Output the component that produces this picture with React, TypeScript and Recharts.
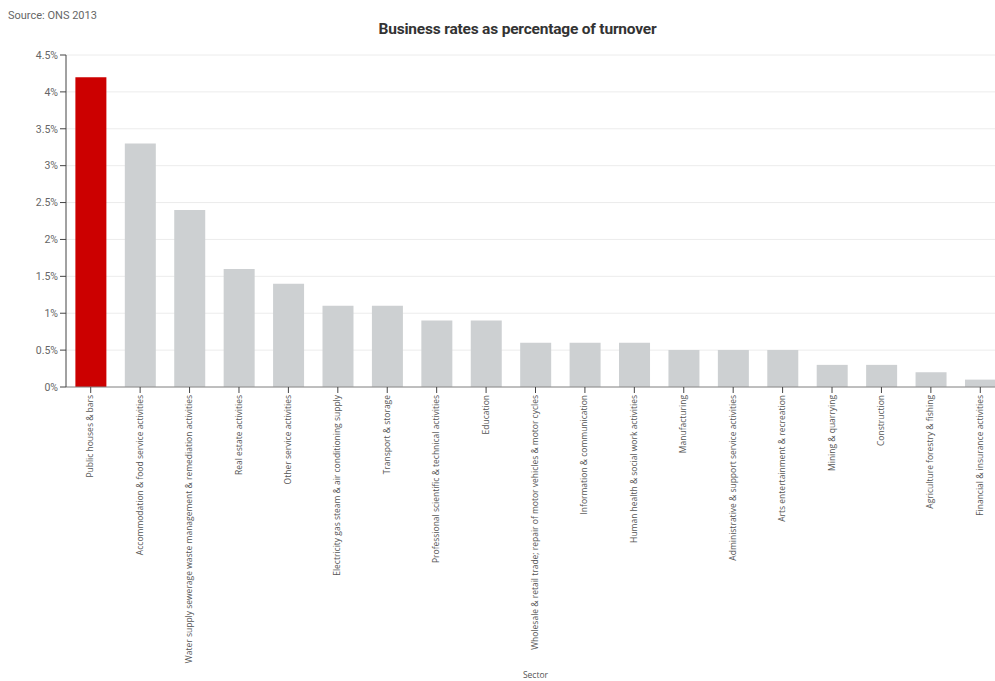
import { BarChart, Bar, Cell, XAxis, YAxis, CartesianGrid, Label } from 'recharts';

const sectors = [
  'Public houses & bars',
  'Accommodation & food service activities',
  'Water supply sewerage waste management & remediation activities',
  'Real estate activities',
  'Other service activities',
  'Electricity gas steam & air conditioning supply',
  'Transport & storage',
  'Professional scientific & technical activities',
  'Education',
  'Wholesale & retail trade; repair of motor vehicles & motor cycles',
  'Information & communication',
  'Human health & social work activities',
  'Manufacturing',
  'Administrative & support service activities',
  'Arts entertainment & recreation',
  'Mining & quarrying',
  'Construction',
  'Agriculture forestry & fishing',
  'Financial & insurance activities',
];

const ratesPct = [4.2, 3.3, 2.4, 1.6, 1.4, 1.1, 1.1, 0.9, 0.9, 0.6, 0.6, 0.6, 0.5, 0.5, 0.5, 0.3, 0.3, 0.2, 0.1];

const yTicks = [0, 0.5, 1, 1.5, 2, 2.5, 3, 3.5, 4, 4.5];

const data = sectors.map((sector, i) => ({ sector, value: ratesPct[i] }));

function SectorTick(props: any) {
  const { x, y, payload } = props;
  return (
    <g transform={`translate(${x},${y})`}>
      <text
        transform="rotate(-90)"
        x={0}
        y={0}
        dy="0.3em"
        textAnchor="end"
        fontSize={8.5}
        fontFamily="'Open Sans', sans-serif"
        fill="#555"
      >
        {payload.value}
      </text>
    </g>
  );
}

export default function App() {
  return (
    <div
      style={{
        position: 'fixed',
        left: 0,
        top: 0,
        width: 995,
        height: 681,
        overflow: 'hidden',
        background: '#fff',
        fontFamily: 'Roboto, sans-serif',
      }}
    >
      <div style={{ position: 'absolute', left: 8, top: 9, fontSize: 11, color: '#666' }}>
        Source: ONS 2013
      </div>
      <div
        style={{
          position: 'absolute',
          left: 0,
          width: 1035,
          top: 20,
          textAlign: 'center',
          fontSize: 15.5,
          fontWeight: 'bold',
          color: '#333',
          letterSpacing: -0.2,
        }}
      >
        Business rates as percentage of turnover
      </div>
      <div style={{ position: 'absolute', left: 0, top: 0 }}>
        <BarChart
          width={1010}
          height={681}
          data={data}
          margin={{ top: 55, right: 5, bottom: 0, left: 0 }}
          barCategoryGap="19%"
        >
          <CartesianGrid horizontal vertical={false} stroke="#ececec" />
          <XAxis
            dataKey="sector"
            interval={0}
            height={294}
            tick={<SectorTick />}
            tickLine={{ stroke: '#444' }}
            axisLine={{ stroke: '#888' }}
          >
            <Label
              value="Sector"
              position="insideBottom"
              offset={3}
              style={{ fontSize: 8.5, fontFamily: "'Open Sans', sans-serif", fill: '#555' }}
            />
          </XAxis>
          <YAxis
            width={66}
            domain={[0, 4.5]}
            ticks={yTicks}
            tickFormatter={(v: number) => `${v}%`}
            tick={{ fontSize: 10.5, fill: '#666' }}
            tickLine={{ stroke: '#444' }}
            axisLine={{ stroke: '#444' }}
          />
          <Bar dataKey="value" isAnimationActive={false}>
            {data.map((d, i) => (
              <Cell key={d.sector} fill={i === 0 ? '#cc0000' : '#cdd0d2'} />
            ))}
          </Bar>
        </BarChart>
      </div>
    </div>
  );
}
